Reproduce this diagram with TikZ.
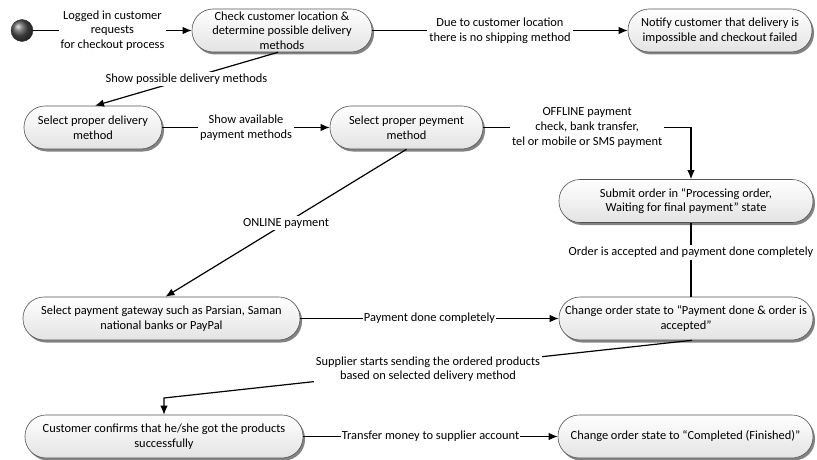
\documentclass[tikz,border=0pt]{standalone}
\usepackage{fontspec}
\setmainfont{Carlito}
\usetikzlibrary{shadows,arrows.meta,calc}
\newcommand\diafont{\fontsize{12.4}{14.6}\selectfont}
\begin{document}
\begin{tikzpicture}[x=1pt,y=-1pt,
  state/.style={draw=gray!65!black, line width=0.6pt, rounded corners=21pt,
    top color=white, bottom color=gray!22, minimum height=43pt, align=center,
    inner sep=0pt, font=\diafont,
    drop shadow={shadow xshift=2pt, shadow yshift=-2.5pt, fill=gray!70!black, opacity=0.75}},
  lab/.style={fill=white, align=center, inner sep=2pt, font=\diafont},
  conn/.style={line width=1.2pt, draw=black},
  arr/.style={conn, -{Latex[length=9pt,width=7.5pt]}}
]
\useasboundingbox (0,0) rectangle (817,460);

\node[circle, minimum size=22pt, inner sep=0pt, shading=ball, ball color=gray!65!black, draw=gray!40!black] (start) at (22,30.5) {};

\node[state, minimum width=180pt] (check) at (282,30.5) {Check customer location \&\\determine possible delivery\\methods};
\node[state, minimum width=184pt] (notify) at (720,30.5) {Notify customer that delivery is\\impossible and checkout failed};
\node[state, minimum width=138pt] (seldel) at (93,127.5) {Select proper delivery\\method};
\node[state, minimum width=153pt] (selpay) at (406.5,127.5) {Select proper peyment\\method};
\node[state, minimum width=254pt] (submit) at (686,201) {Submit order in “Processing order,\\Waiting for final payment” state};
\node[state, minimum width=277pt] (gateway) at (161.5,318.5) {Select payment gateway such as Parsian, Saman\\national banks or PayPal};
\node[state, minimum width=254pt] (change) at (686,318.5) {Change order state to “Payment done \& order is\\accepted”};
\node[state, minimum width=278pt] (confirm) at (164,436.5) {Customer confirms that he/she got the products\\successfully};
\node[state, minimum width=255pt] (completed) at (685.5,436.5) {Change order state to “Completed (Finished)”};

\coordinate (bend) at (164,398);

\draw[arr] (start) -- node[lab]{Logged in customer\\requests\\for checkout process} (check);
\draw[arr] (check) -- node[lab]{Due to customer location\\there is no shipping method} (notify);
\draw[arr] ([xshift=-4pt]check.south) -- node[lab]{Show possible delivery methods} ([xshift=2pt]seldel.north);
\draw[arr] (seldel) -- node[lab]{Show available\\payment methods} (selpay);
\draw[arr] (selpay.east) -| node[lab, pos=0.25]{OFFLINE payment\\check, bank transfer,\\tel or mobile or SMS payment} ([xshift=5pt]submit.north);
\draw[arr] (selpay.south) -- node[lab]{ONLINE payment} ([xshift=4pt]gateway.north);
\draw[conn] ([xshift=5pt]submit.south) -- node[lab, pos=0.4]{Order is accepted and payment done completely} ([xshift=5pt]change.north);
\draw[arr] (gateway) -- node[lab, inner sep=1pt]{Payment done completely} (change);
\draw[arr] ([xshift=6pt]change.south) -- node[lab]{Supplier starts sending the ordered products\\based on selected delivery method} (bend) -- (confirm.north);
\draw[arr] (confirm) -- node[lab, inner sep=1pt]{Transfer money to supplier account} (completed);
\end{tikzpicture}
\end{document}
